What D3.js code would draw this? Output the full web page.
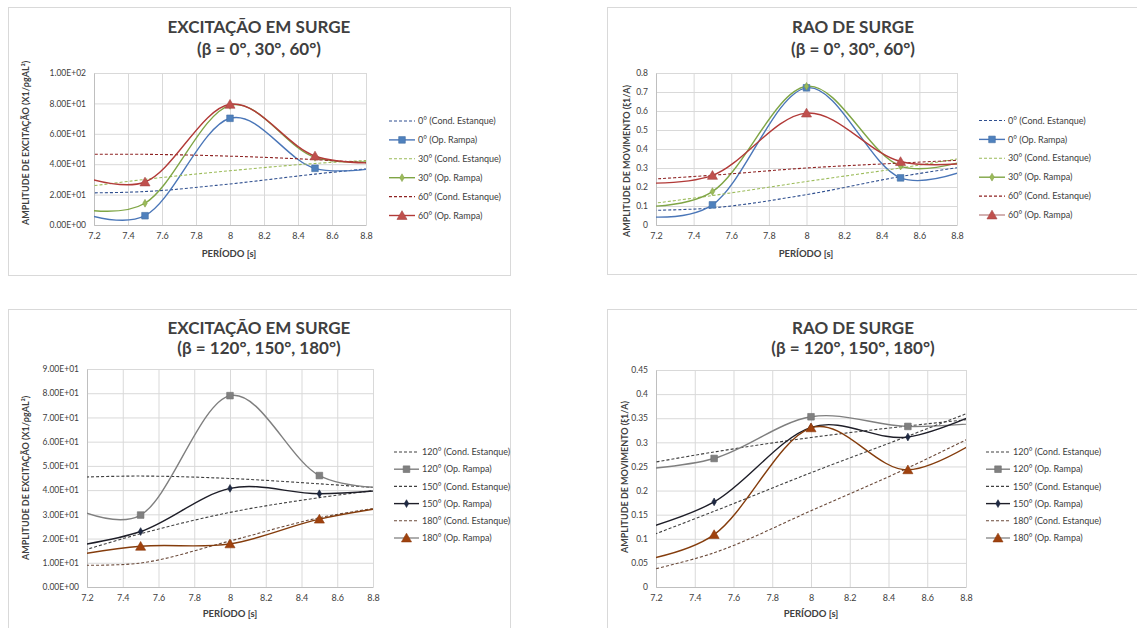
<!DOCTYPE html>
<meta charset="utf-8">
<html><head><title>Surge</title>
<script src="https://cdn.jsdelivr.net/npm/d3@7/dist/d3.min.js"></script>
<style>
body { margin: 0; background: #fff; }
text { font-family: Lato, "Open Sans", sans-serif; }
</style></head><body>
<script>

// periods of the data points (7 and 9 fall outside the visible axis)
var periods = [7, 7.5, 8, 8.5, 9];
var xTicks = [7.2, 7.4, 7.6, 7.8, 8, 8.2, 8.4, 8.6, 8.8];

var namesTop = ["0° (Cond. Estanque)", "0° (Op. Rampa)", "30° (Cond. Estanque)", "30° (Op. Rampa)", "60° (Cond. Estanque)", "60° (Op. Rampa)"];
var namesBottom = ["120° (Cond. Estanque)", "120° (Op. Rampa)", "150° (Cond. Estanque)", "150° (Op. Rampa)", "180° (Cond. Estanque)", "180° (Op. Rampa)"];

// excitation, beta = 0, 30, 60
var exc0Cond = [21, 22, 27, 33.5, 39];
var exc0Op = [13, 6.1, 70.2, 37.3, 40];
var exc30Cond = [23, 30, 35.7, 40.5, 43.5];
var exc30Op = [13, 14.3, 78.7, 44.5, 43];
var exc60Cond = [46.5, 46.5, 45.3, 43, 39.5];
var exc60Op = [37, 28.3, 79.4, 45.4, 41];

// RAO, beta = 0, 30, 60
var rao0Cond = [0.075, 0.09, 0.16, 0.255, 0.33];
var rao0Op = [0.06, 0.106, 0.722, 0.248, 0.35];
var rao30Cond = [0.09, 0.155, 0.229, 0.3, 0.38];
var rao30Op = [0.1, 0.176, 0.73, 0.31, 0.39];
var rao60Cond = [0.23, 0.262, 0.3, 0.326, 0.35];
var rao60Op = [0.225, 0.261, 0.589, 0.334, 0.34];

// excitation, beta = 120, 150, 180
var exc120Cond = [45, 45.8, 44.8, 42.6, 40];
var exc120Op = [37, 29.7, 79, 46, 41];
var exc150Cond = [11, 22, 30.8, 36.9, 41.5];
var exc150Op = [15.5, 22.9, 40.7, 38.5, 41];
var exc180Cond = [9.3, 9.9, 19, 28.6, 34.5];
var exc180Op = [11.5, 16.8, 17.8, 28, 34.3];

// RAO, beta = 120, 150, 180
var rao120Cond = [0.245, 0.28, 0.31, 0.334, 0.355];
var rao120Op = [0.24, 0.2665, 0.353, 0.333, 0.345];
var rao150Cond = [0.08, 0.157, 0.237, 0.313, 0.39];
var rao150Op = [0.105, 0.1765, 0.331, 0.311, 0.385];
var rao180Cond = [0.02, 0.071, 0.158, 0.247, 0.345];
var rao180Op = [0.047, 0.1087, 0.33, 0.243, 0.34];

var topStyles = [
  {color: "#2F4F8F", dash: true},
  {color: "#4A76B8", marker: "square", mcolor: "#4F81BD"},
  {color: "#9BBB59", dash: true},
  {color: "#7FA545", marker: "diamond", mcolor: "#9BBB59", msize: 5},
  {color: "#8E2323", dash: true},
  {color: "#B23A38", marker: "triangle", mcolor: "#C0504D", lcolor: "#B23A38"}
];
var topStylesRao = topStyles.slice();
topStylesRao[5] = {color: "#B23A38", marker: "triangle", mcolor: "#C0504D", lcolor: "#C09090"};

var botStyles = [
  {color: "#404040", dash: true},
  {color: "#7F7F7F", marker: "square", mcolor: "#808080"},
  {color: "#404040", dash: true},
  {color: "#1E1E28", marker: "diamond", mcolor: "#1F2A44", msize: 5},
  {color: "#6B4A3A", dash: true},
  {color: "#843C0C", marker: "triangle", mcolor: "#A0420E", lcolor: "#8C8C8C"}
];

function expFmt(v) {
  if (v === 0) return "0.00E+00";
  var e = Math.floor(Math.log10(v) + 1e-9);
  var m = v / Math.pow(10, e);
  return m.toFixed(2) + "E+" + (e < 10 ? "0" + e : e);
}
function plainFmt(v) { return String(+v.toFixed(2)); }

var panels = [
  {frame: [8, 7, 502, 268], plot: {l: 94, r: 366, t: 73, b: 225}, yMax: 100, yStep: 20, fmt: expFmt,
   title: ["EXCITAÇÃO EM SURGE", "(β = 0°, 30°, 60°)"], titleX: 259, titleY: [27, 49],
   ytitle: "AMPLITUDE DE EXCITAÇÃO (X1/ρgAL²)", ytx: 26, yty: 143, xtx: 229, xty: 254,
   leg: {x0: 389, x1: 415, y: 121, dy: 18.9}, names: namesTop, styles: topStyles,
   series: [exc0Cond, exc0Op, exc30Cond, exc30Op, exc60Cond, exc60Op]},
  {frame: [607, 7, 560, 267], plot: {l: 656, r: 957, t: 73, b: 225}, yMax: 0.8, yStep: 0.1, fmt: plainFmt,
   title: ["RAO DE SURGE", "(β = 0°, 30°, 60°)"], titleX: 853, titleY: [27, 49],
   ytitle: "AMPLITUDE DE MOVIMENTO  (ξ1/A)", ytx: 627, yty: 161, xtx: 806, xty: 254,
   leg: {x0: 979, x1: 1005, y: 120.5, dy: 18.9}, names: namesTop, styles: topStylesRao,
   series: [rao0Cond, rao0Op, rao30Cond, rao30Op, rao60Cond, rao60Op]},
  {frame: [8, 309, 502, 340], plot: {l: 87, r: 373, t: 369, b: 587}, yMax: 90, yStep: 10, fmt: expFmt,
   title: ["EXCITAÇÃO EM SURGE", "(β = 120°, 150°, 180°)"], titleX: 259, titleY: [328, 348],
   ytitle: "AMPLITUDE DE EXCITAÇÃO (X1/ρgAL²)", ytx: 26, yty: 478, xtx: 230, xty: 614,
   leg: {x0: 394, x1: 419, y: 452, dy: 17.2}, names: namesBottom, styles: botStyles,
   series: [exc120Cond, exc120Op, exc150Cond, exc150Op, exc180Cond, exc180Op]},
  {frame: [607, 309, 560, 340], plot: {l: 656, r: 966, t: 370, b: 587}, yMax: 0.45, yStep: 0.05, fmt: plainFmt,
   title: ["RAO DE SURGE", "(β = 120°, 150°, 180°)"], titleX: 853, titleY: [328, 348],
   ytitle: "AMPLITUDE DE MOVIMENTO  (ξ1/A)", ytx: 625, yty: 477, xtx: 811, xty: 614,
   leg: {x0: 986, x1: 1010, y: 452, dy: 17.2}, names: namesBottom, styles: botStyles,
   series: [rao120Cond, rao120Op, rao150Cond, rao150Op, rao180Cond, rao180Op]}
];

var svg = d3.select("body").append("svg")
    .attr("width", 1137)
    .attr("height", 628);

function drawMarker(g, type, x, y, color, size) {
  var sym = type == "square" ? d3.symbolSquare : type == "diamond" ? d3.symbolDiamond : d3.symbolTriangle;
  var s = size || 7;
  g.append("path")
      .attr("d", d3.symbol().type(sym).size(s * s * (type == "diamond" ? 0.7 : 0.9)))
      .attr("transform", "translate(" + x + "," + (type == "triangle" ? y + 1 : y) + ")")
      .attr("fill", color)
      .attr("stroke", d3.color(color).darker(0.4))
      .attr("stroke-width", 0.6);
}

panels.forEach(function(p, pi) {
  var g = svg.append("g");
  var P = p.plot;

  g.append("rect")
      .attr("x", p.frame[0] + 0.5).attr("y", p.frame[1] + 0.5)
      .attr("width", p.frame[2]).attr("height", p.frame[3])
      .attr("fill", "#fff").attr("stroke", "#D9D9D9");

  var x = d3.scaleLinear().domain([7.2, 8.8]).range([P.l, P.r]);
  var y = d3.scaleLinear().domain([0, p.yMax]).range([P.b, P.t]);
  var yTicks = d3.range(0, p.yMax + p.yStep / 2, p.yStep);

  // gridlines
  g.append("g")
      .attr("transform", "translate(" + P.l + ",0)")
      .call(d3.axisLeft(y).tickValues(yTicks).tickSize(-(P.r - P.l)).tickFormat(""))
      .call(function(a) { a.select(".domain").remove(); a.selectAll("line").attr("stroke", "#D9D9D9"); });
  g.append("g")
      .attr("transform", "translate(0," + P.b + ")")
      .call(d3.axisBottom(x).tickValues(xTicks).tickSize(-(P.b - P.t)).tickFormat(""))
      .call(function(a) { a.select(".domain").remove(); a.selectAll("line").attr("stroke", "#D9D9D9"); });

  // axis lines and labels
  g.append("g")
      .attr("transform", "translate(" + P.l + ",0)")
      .call(d3.axisLeft(y).tickValues(yTicks).tickSize(0).tickPadding(8).tickFormat(p.fmt))
      .call(function(a) {
        a.select(".domain").attr("stroke", "#BFBFBF");
        a.selectAll("text").attr("fill", "#404040").style("font-size", "8.5px");
      });
  g.append("g")
      .attr("transform", "translate(0," + P.b + ")")
      .call(d3.axisBottom(x).tickValues(xTicks).tickSize(0).tickPadding(8).tickFormat(d3.format("")))
      .call(function(a) {
        a.select(".domain").attr("stroke", "#BFBFBF");
        a.selectAll("text").attr("fill", "#404040").style("font-size", "9px");
      });

  // titles
  p.title.forEach(function(t, i) {
    g.append("text")
        .attr("x", p.titleX).attr("y", p.titleY[i])
        .attr("dy", "0.35em")
        .attr("text-anchor", "middle")
        .attr("fill", "#404040")
        .style("font-size", "17px").style("font-weight", "bold")
        .text(t);
  });
  g.append("text")
      .attr("transform", "translate(" + p.ytx + "," + p.yty + ") rotate(-90)")
      .attr("dy", "0.35em")
      .attr("text-anchor", "middle")
      .attr("fill", "#404040")
      .style("font-size", "9px").style("font-weight", "bold")
      .text(p.ytitle);
  g.append("text")
      .attr("x", p.xtx).attr("y", p.xty)
      .attr("dy", "0.35em")
      .attr("text-anchor", "middle")
      .attr("fill", "#404040")
      .style("font-size", "9.5px").style("font-weight", "bold")
      .text("PERÍODO [s]");

  // series
  var clipId = "clip" + pi;
  g.append("clipPath").attr("id", clipId)
    .append("rect")
      .attr("x", P.l).attr("y", P.t - 6)
      .attr("width", P.r - P.l).attr("height", P.b - P.t + 6);

  var line = d3.line()
      .x(function(d) { return x(d[0]); })
      .y(function(d) { return y(d[1]); })
      .curve(d3.curveCardinal.tension(0));

  var plotG = g.append("g").attr("clip-path", "url(#" + clipId + ")");

  p.series.forEach(function(vals, si) {
    var st = p.styles[si];
    var pts = periods.map(function(t, i) { return [t, vals[i]]; });
    plotG.append("path")
        .datum(pts)
        .attr("d", line)
        .attr("fill", "none")
        .attr("stroke", st.color)
        .attr("stroke-width", st.dash ? 1.1 : 1.4)
        .attr("stroke-dasharray", st.dash ? "3,2" : null);
  });
  p.series.forEach(function(vals, si) {
    var st = p.styles[si];
    if (!st.marker) return;
    periods.forEach(function(t, i) {
      if (t < 7.2 || t > 8.8) return;
      drawMarker(g, st.marker, x(t), y(vals[i]), st.mcolor, st.msize);
    });
  });

  // legend
  p.names.forEach(function(name, i) {
    var st = p.styles[i];
    var ly = p.leg.y + i * p.leg.dy;
    g.append("line")
        .attr("x1", p.leg.x0).attr("x2", p.leg.x1)
        .attr("y1", ly).attr("y2", ly)
        .attr("stroke", st.lcolor || st.color)
        .attr("stroke-width", st.dash ? 1.1 : 1.4)
        .attr("stroke-dasharray", st.dash ? "3,2" : null);
    if (st.marker) drawMarker(g, st.marker, (p.leg.x0 + p.leg.x1) / 2, ly, st.mcolor, st.msize);
    g.append("text")
        .attr("x", p.leg.x1 + 3).attr("y", ly)
        .attr("dy", "0.35em")
        .attr("fill", "#404040")
        .style("font-size", "9px")
        .text(name);
  });
});

</script>
</body>
</html>
